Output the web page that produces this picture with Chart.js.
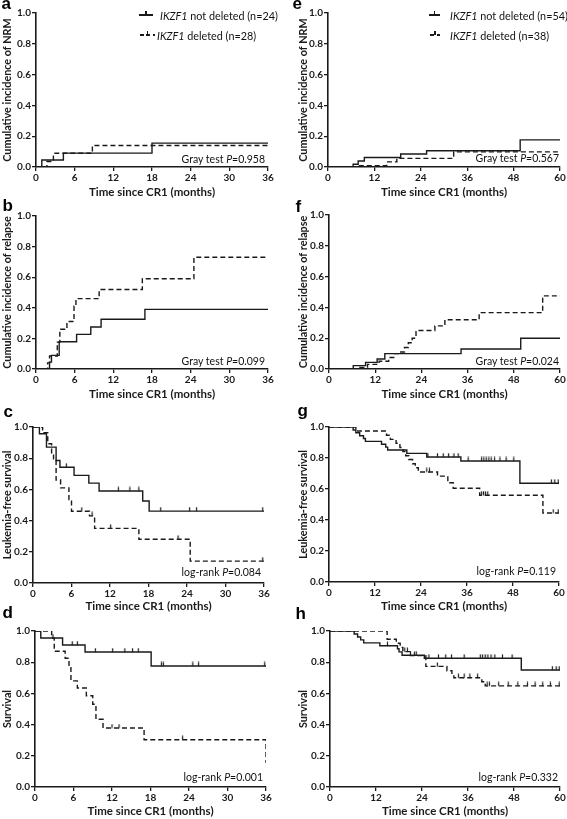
<!DOCTYPE html>
<html><head><meta charset="utf-8">
<script src="https://cdn.jsdelivr.net/npm/chart.js@4/dist/chart.umd.min.js"></script>
<style>
html,body{margin:0;padding:0;background:#fff;overflow:hidden}
body{width:567px;height:819px;position:relative;font-family:Lato,sans-serif}
canvas{position:absolute}
.let{position:absolute;font:bold 17px "Liberation Sans",Arial,sans-serif;line-height:17px;color:#000;z-index:2}
.pv{position:absolute;font:10.5px Lato,sans-serif;line-height:12px;white-space:nowrap;color:#111;z-index:2}
.lgt{position:absolute;font:10.8px Lato,sans-serif;line-height:13px;white-space:nowrap;color:#111;z-index:2}
.lgs{position:absolute;height:1.4px;z-index:2}
.lgk{position:absolute;width:1.2px;height:4px;background:#1a1a1a;z-index:2}
</style></head><body>
<script>
// ---------- axis ticks / labels ----------
const X_TICKS_36 = [0, 6, 12, 18, 24, 30, 36];
const X_TICKS_60 = [0, 12, 24, 36, 48, 60];
const Y_TICKS = [0, 0.2, 0.4, 0.6, 0.8, 1.0];
const Y_TICK_LABELS = ['0.0', '0.2', '0.4', '0.6', '0.8', '1.0'];
const X_TITLE = 'Time since CR1 (months)';
const PANEL_IDS = ['a', 'b', 'c', 'd', 'e', 'f', 'g', 'h'];
const Y_TITLES = ['Cumulative incidence of NRM', 'Cumulative incidence of relapse', 'Leukemia-free survival', 'Survival',
                  'Cumulative incidence of NRM', 'Cumulative incidence of relapse', 'Leukemia-free survival', 'Survival'];
const X_MAX = [36, 36, 36, 36, 60, 60, 60, 60];
const TEST_NAMES = ['Gray test', 'Gray test', 'log-rank', 'log-rank', 'Gray test', 'Gray test', 'log-rank', 'log-rank'];
const P_VALUES = ['0.958', '0.099', '0.084', '0.001', '0.567', '0.024', '0.119', '0.332'];
const GENE = 'IKZF1';
const LEGEND_LEFT = ['not deleted (n=24)', 'deleted (n=28)'];
const LEGEND_RIGHT = ['not deleted (n=54)', 'deleted (n=38)'];

// ---------- data: event times (months) and curve values ----------
// a: NRM, left cohort
const A_NOTDEL_T = [0, 0.9, 4.25, 18.0, 36];
const A_NOTDEL_Y = [0, 0.045, 0.09, 0.155, 0.155];
const A_DEL_T = [0, 1.7, 2.7, 8.75, 36];
const A_DEL_Y = [0, 0.036, 0.089, 0.14, 0.14];
// b: relapse, left cohort
const B_NOTDEL_T = [0, 2.1, 2.4, 3.6, 6.3, 8.5, 10.1, 16.9, 36];
const B_NOTDEL_Y = [0, 0.045, 0.089, 0.178, 0.226, 0.275, 0.325, 0.39, 0.39];
const B_DEL_T = [0, 1.8, 2.1, 3.3, 3.7, 4.8, 5.9, 6.2, 9.8, 16.5, 24.5, 36];
const B_DEL_Y = [0, 0.04, 0.085, 0.175, 0.26, 0.31, 0.41, 0.46, 0.52, 0.59, 0.73, 0.73];
// c: LFS, left cohort
const C_NOTDEL_T = [0, 1.0, 2.1, 3.6, 4.2, 6.4, 8.7, 10.3, 17.1, 18.1, 36];
const C_NOTDEL_Y = [1, 0.957, 0.871, 0.785, 0.742, 0.69, 0.64, 0.59, 0.526, 0.461, 0.461];
const C_NOTDEL_CENS = [0.4, 0.8, 5.2, 13.3, 15.1, 16.5, 19.9, 24.4, 25.5, 35.8];
const C_DEL_T = [0, 1.5, 2.3, 2.9, 3.2, 3.6, 4.3, 5.6, 6.0, 8.8, 9.6, 16.5, 24.5, 36];
const C_DEL_Y = [1, 0.964, 0.893, 0.82, 0.785, 0.66, 0.61, 0.535, 0.46, 0.43, 0.35, 0.28, 0.14, 0.14];
const C_DEL_CENS = [7.6, 9.2, 12.1, 22.6, 35.8];
// d: OS, left cohort
const D_NOTDEL_T = [0, 0.9, 4.3, 7.8, 18.1, 36];
const D_NOTDEL_Y = [1, 0.955, 0.91, 0.865, 0.776, 0.776];
const D_NOTDEL_CENS = [0.3, 0.7, 2.8, 5.8, 6.6, 9.4, 12.1, 14.0, 15.2, 16.1, 19.7, 20.0, 24.6, 25.5, 35.8];
const D_DEL_T = [0, 2.6, 3.0, 4.7, 5.3, 5.6, 6.6, 8.0, 9.0, 9.5, 10.6, 17.0, 36];
const D_DEL_Y = [1, 0.955, 0.87, 0.825, 0.78, 0.68, 0.635, 0.585, 0.53, 0.434, 0.378, 0.303, 0.154];
const D_DEL_CENS = [12.0, 13.1, 23.0];
// e: NRM, right cohort
const E_NOTDEL_T = [0, 6.5, 7.8, 9.4, 18.8, 25.5, 49.7, 60];
const E_NOTDEL_Y = [0, 0.018, 0.039, 0.062, 0.084, 0.106, 0.176, 0.176];
const E_DEL_T = [0, 7.5, 15.2, 17.8, 32.5, 60];
const E_DEL_Y = [0, 0.008, 0.033, 0.056, 0.098, 0.098];
// f: relapse, right cohort
const F_NOTDEL_T = [0, 6.3, 9.5, 12.5, 14.5, 34.3, 49.8, 60];
const F_NOTDEL_Y = [0, 0.022, 0.043, 0.065, 0.1, 0.13, 0.2, 0.2];
const F_DEL_T = [0, 8.0, 10.0, 13.0, 15.5, 16.8, 18.2, 19.6, 20.6, 21.6, 22.6, 27.5, 30.1, 39.0, 55.5, 60];
const F_DEL_Y = [0, 0.01, 0.03, 0.05, 0.075, 0.1, 0.11, 0.14, 0.17, 0.2, 0.25, 0.28, 0.32, 0.366, 0.475, 0.475];
// g: LFS, right cohort
const G_NOTDEL_T = [0, 6.3, 7.0, 8.0, 9.0, 9.5, 13.7, 14.8, 15.3, 20.3, 25.5, 34.4, 49.8, 60];
const G_NOTDEL_Y = [1, 0.981, 0.963, 0.944, 0.926, 0.907, 0.889, 0.87, 0.852, 0.83, 0.806, 0.781, 0.637, 0.637];
const G_NOTDEL_CENS = [5.2, 25.8, 28.3, 29.8, 31.2, 32.6, 33.7, 36.3, 39.8, 40.4, 41.0, 41.7, 42.3, 43.2, 44.6, 46.2, 48.2, 58.0, 58.9, 59.8];
const G_DEL_T = [0, 7.0, 15.0, 16.0, 17.5, 18.5, 19.3, 20.0, 20.8, 21.8, 22.5, 23.3, 28.3, 31.0, 32.4, 39.3, 55.8, 60];
const G_DEL_Y = [1, 0.974, 0.947, 0.92, 0.895, 0.868, 0.842, 0.815, 0.79, 0.763, 0.737, 0.71, 0.683, 0.64, 0.605, 0.56, 0.445, 0.445];
const G_DEL_CENS = [25.5, 26.2, 39.8, 40.3, 40.8, 41.4, 58.5, 59.8];
// h: OS, right cohort
const H_NOTDEL_T = [0, 6.3, 7.2, 8.0, 8.8, 13.0, 17.6, 18.0, 18.8, 24.6, 49.9, 60];
const H_NOTDEL_Y = [1, 0.981, 0.962, 0.943, 0.924, 0.905, 0.886, 0.866, 0.845, 0.825, 0.75, 0.75];
const H_NOTDEL_CENS = [5.1, 15.0, 21.0, 22.5, 25.8, 28.3, 30.2, 31.7, 35.0, 39.2, 39.8, 40.5, 41.2, 42.0, 43.0, 45.0, 47.5, 58.0, 59.0, 59.8];
const H_DEL_T = [0, 14.9, 17.3, 18.3, 19.0, 21.0, 25.0, 30.5, 31.8, 32.3, 39.6, 40.5, 60];
const H_DEL_Y = [1, 0.947, 0.921, 0.895, 0.868, 0.842, 0.773, 0.745, 0.72, 0.70, 0.675, 0.648, 0.648];
const H_DEL_CENS = [19.5, 20.2, 22.0, 28.0, 33.5, 35.0, 36.5, 38.5, 41.0, 41.6, 44.0, 46.5, 49.0, 51.5, 53.5, 55.5, 57.5, 59.8];

const SERIES = [
  [A_NOTDEL_T, A_NOTDEL_Y, null, A_DEL_T, A_DEL_Y, null],
  [B_NOTDEL_T, B_NOTDEL_Y, null, B_DEL_T, B_DEL_Y, null],
  [C_NOTDEL_T, C_NOTDEL_Y, C_NOTDEL_CENS, C_DEL_T, C_DEL_Y, C_DEL_CENS],
  [D_NOTDEL_T, D_NOTDEL_Y, D_NOTDEL_CENS, D_DEL_T, D_DEL_Y, D_DEL_CENS],
  [E_NOTDEL_T, E_NOTDEL_Y, null, E_DEL_T, E_DEL_Y, null],
  [F_NOTDEL_T, F_NOTDEL_Y, null, F_DEL_T, F_DEL_Y, null],
  [G_NOTDEL_T, G_NOTDEL_Y, G_NOTDEL_CENS, G_DEL_T, G_DEL_Y, G_DEL_CENS],
  [H_NOTDEL_T, H_NOTDEL_Y, H_NOTDEL_CENS, H_DEL_T, H_DEL_Y, H_DEL_CENS]
];

// ---------- layout (page pixels) ----------
// canvas box [left, top, width, height], left padding, plot area [left, right, top, bottom]
const BOX = [
  [0, 0, 283, 200, 0, [36, 268, 13, 167]],
  [0, 200, 283, 202, 0, [36, 268, 216, 369]],
  [0, 402, 283, 212, 0, [33, 264, 427, 583]],
  [0, 614, 283, 205, 0, [35, 266, 631, 787]],
  [283, 0, 284, 200, 13, [328, 560, 13, 167]],
  [283, 200, 284, 202, 13, [329, 560, 215, 369]],
  [283, 402, 284, 212, 13, [329, 559, 427, 582]],
  [283, 614, 284, 205, 13, [330, 560, 631, 787]]
];
const LETTER_POS = [[1.5, -5.5], [2.5, 197], [3.5, 403], [2.5, 604], [292.5, -5], [295.5, 198], [297.5, 402], [295.5, 605]];
const PV_POS = [[265, 158.8], [265, 361.3], [261, 572], [263, 777], [559, 157.8], [559, 361], [556, 571.5], [558, 777]];

const INK = '#1a1a1a';
const TICK_FONT = {family: 'Lato', size: 10, weight: 'bold'};
const XTITLE_FONT = {family: 'Lato', size: 11.5, weight: 'bold'};
const YTITLE_FONT = {family: 'Lato', size: 10.8, weight: 'bold'};

// censor tick marker (short vertical tick above the curve)
const TICK = document.createElement('canvas');
TICK.width = 3; TICK.height = 9;
(function () { const c = TICK.getContext('2d'); c.strokeStyle = INK; c.lineWidth = 1.2; c.beginPath(); c.moveTo(1.5, 0.5); c.lineTo(1.5, 4.6); c.stroke(); })();

function stepPts(T, Y) { return T.map((t, i) => ({x: t, y: Y[i]})); }
function censorPts(C, T, Y) {
  return C.map(c => { let v = Y[0]; for (let i = 0; i < T.length; i++) if (T[i] <= c) v = Y[i]; return {x: c, y: v}; });
}

function makeChart(k) {
  const [left, top, w, h, padL, area] = BOX[k];
  const [aL, aR, aT, aB] = area;
  const cv = document.createElement('canvas');
  cv.width = w; cv.height = h;
  cv.style.left = left + 'px'; cv.style.top = top + 'px';
  cv.style.width = w + 'px'; cv.style.height = h + 'px';
  document.body.appendChild(cv);
  const yW = aL - left - padL;
  const xH = top + h - aB;
  const xt = X_MAX[k] === 36 ? X_TICKS_36 : X_TICKS_60;
  const [nT, nY, nC, dT, dY, dC] = SERIES[k];
  const ds = [
    {data: stepPts(nT, nY), borderColor: INK, borderWidth: 1.4, stepped: true, pointRadius: 0, fill: false},
    {data: stepPts(dT, dY), borderColor: INK, borderWidth: 1.4, borderDash: [5, 3], stepped: true, pointRadius: 0, fill: false}
  ];
  if (nC) ds.push({data: censorPts(nC, nT, nY), showLine: false, pointStyle: TICK, pointRadius: 3, borderColor: INK, backgroundColor: INK});
  if (dC) ds.push({data: censorPts(dC, dT, dY), showLine: false, pointStyle: TICK, pointRadius: 3, borderColor: INK, backgroundColor: INK});
  const gridOpt = {display: true, drawOnChartArea: false, drawTicks: true, tickLength: 4, color: INK, lineWidth: 1.3};
  const borderOpt = {display: true, color: INK, width: 1.6};
  new Chart(cv, {
    type: 'line',
    data: {datasets: ds},
    options: {
      responsive: false, animation: false, devicePixelRatio: 1, events: [],
      layout: {padding: {left: padL, right: left + w - aR, top: aT - top, bottom: 0}},
      plugins: {legend: {display: false}, tooltip: {enabled: false}},
      scales: {
        x: {
          type: 'linear', min: 0, max: X_MAX[k],
          afterBuildTicks: s => { s.ticks = xt.map(v => ({value: v})); },
          ticks: {autoSkip: false, maxRotation: 0, padding: 1, color: INK, font: TICK_FONT, callback: (v, i) => String(xt[i])},
          grid: gridOpt, border: borderOpt,
          title: {display: true, text: X_TITLE, color: INK, font: XTITLE_FONT, padding: {top: 0, bottom: 0.4}},
          afterFit: s => { s.height = xH; s.paddingLeft = 0; s.paddingRight = 0; }
        },
        y: {
          type: 'linear', min: 0, max: 1,
          afterBuildTicks: s => { s.ticks = Y_TICKS.map(v => ({value: v})); },
          ticks: {autoSkip: false, padding: 1, color: INK, font: TICK_FONT, callback: (v, i) => Y_TICK_LABELS[i]},
          grid: gridOpt, border: borderOpt,
          title: {display: true, text: Y_TITLES[k], color: INK, font: YTITLE_FONT, padding: {top: 0.8, bottom: 0}},
          afterFit: s => { s.width = yW; s.paddingTop = 0; s.paddingBottom = 0; }
        }
      }
    }
  });
}

function addDiv(cls, html, css) {
  const d = document.createElement('div');
  d.className = cls; d.innerHTML = html;
  Object.assign(d.style, css);
  document.body.appendChild(d);
  return d;
}

for (let k = 0; k < 8; k++) {
  makeChart(k);
  addDiv('let', PANEL_IDS[k], {left: LETTER_POS[k][0] + 'px', top: LETTER_POS[k][1] + 'px'});
  addDiv('pv', TEST_NAMES[k] + ' <i>P</i>=' + P_VALUES[k],
    {right: (567 - PV_POS[k][0]) + 'px', top: (PV_POS[k][1] - 6.3) + 'px'});
}

// legends: [sampleLeft, sampleRight, centerY, textLeft, dashed, label]
const LEGEND_ITEMS = [
  [139, 153, 15, 160, false, LEGEND_LEFT[0]],
  [140, 155, 35, 157, true, LEGEND_LEFT[1]],
  [429, 440, 15, 450, false, LEGEND_RIGHT[0]],
  [430, 440, 35, 450, true, LEGEND_RIGHT[1]]
];
LEGEND_ITEMS.forEach(([x0, x1, cy, tx, dashed, lab]) => {
  addDiv('lgs', '', {left: x0 + 'px', top: (cy - 0.7) + 'px', width: (x1 - x0) + 'px',
    background: dashed ? 'repeating-linear-gradient(to right,#1a1a1a 0 4px,transparent 4px 6.5px)' : '#1a1a1a'});
  addDiv('lgk', '', {left: ((x0 + x1) / 2 - 0.6) + 'px', top: (cy - 4) + 'px'});
  addDiv('lgt', '<i>' + GENE + '</i> ' + lab, {left: tx + 'px', top: (cy - 6.5) + 'px'});
});
</script>
</body></html>
